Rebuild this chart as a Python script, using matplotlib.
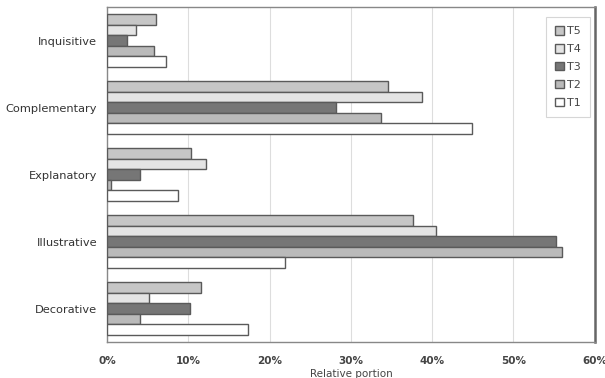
import matplotlib
matplotlib.use("Agg")
import matplotlib.pyplot as plt
import numpy as np

categories = ["Inquisitive", "Complementary", "Explanatory", "Illustrative", "Decorative"]
series_names = ["T5", "T4", "T3", "T2", "T1"]
T5 = [6.0, 34.6, 10.3, 37.6, 11.5]
T4 = [3.5, 38.7, 12.2, 40.5, 5.2]
T3 = [2.5, 28.2, 4.0, 55.2, 10.2]
T2 = [5.8, 33.7, 0.5, 56.0, 4.1]
T1 = [7.2, 44.9, 8.7, 21.9, 17.4]
xticks = [0, 10, 20, 30, 40, 50, 60]
xtick_labels = ["0%", "10%", "20%", "30%", "40%", "50%", "60%"]

series = [T5, T4, T3, T2, T1]
colors = ["#c6c6c6", "#e4e4e4", "#767676", "#bababa", "#ffffff"]

fig = plt.figure(figsize=(6.05, 3.78), dpi=100)
ax = fig.add_axes([0.177, 0.095, 0.806, 0.886])

ypos = np.arange(len(categories))
h = 0.157
for i, (vals, c, name) in enumerate(zip(series, colors, series_names)):
    offs = (i - 2) * h
    ax.barh(ypos + offs, vals, height=h, color=c, edgecolor="#5a5a5a",
            linewidth=1.0, label=name, zorder=3)

ax.set_ylim(4.5, -0.5)
ax.set_xlim(0, 60)
ax.set_xticks(xticks)
ax.set_xticklabels(xtick_labels, fontsize=7.5, color="#444444", fontweight="bold")
ax.set_yticks(ypos)
ax.set_yticklabels(categories, fontsize=8.2, color="#333333")
ax.tick_params(axis="y", length=0, pad=7)
ax.tick_params(axis="x", length=0, pad=10)
ax.grid(axis="x", color="#dddddd", linewidth=0.8, zorder=0)
for s in ["top", "left", "bottom"]:
    ax.spines[s].set_color("#888888")
    ax.spines[s].set_linewidth(1.0)
ax.spines["right"].set_color("#666666")
ax.spines["right"].set_linewidth(1.8)

ax.set_xlabel("Relative portion", fontsize=7.5, color="#444444", labelpad=2)

leg = ax.legend(loc="upper right", bbox_to_anchor=(0.99, 0.97), fontsize=8,
                frameon=True, fancybox=False, handlelength=0.8, handleheight=0.8,
                handletextpad=0.3, labelspacing=0.7, borderpad=0.8,
                borderaxespad=0.0, edgecolor="#cccccc")
leg.get_frame().set_linewidth(0.8)
for t in leg.get_texts():
    t.set_color("#444444")

fig.savefig("out.png", dpi=100)
